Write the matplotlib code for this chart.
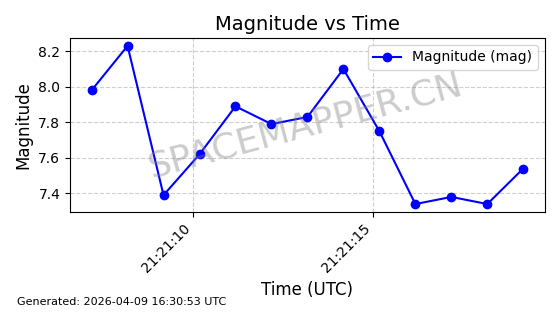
from datetime import datetime, timedelta

import matplotlib
matplotlib.use("Agg")
import matplotlib.pyplot as plt
import matplotlib.dates as mdates

start = datetime(2026, 4, 9, 21, 21, 7, 170000)
times = [start + timedelta(seconds=i) for i in range(13)]
magnitudes = [7.98, 8.23, 7.39, 7.62, 7.89, 7.79, 7.83, 8.10, 7.75, 7.34, 7.38, 7.34, 7.54]

fig = plt.figure(figsize=(5.6, 3.14), dpi=100)
ax = fig.add_axes([0.125, 0.325, 0.848, 0.554])

ax.plot(times, magnitudes, color="blue", marker="o", markersize=6, linewidth=1.5,
        label="Magnitude (mag)")
ax.set_title("Magnitude vs Time", fontsize=14)
ax.set_xlabel("Time (UTC)", fontsize=12)
ax.set_ylabel("Magnitude", fontsize=12)
ax.grid(True, linestyle="--", alpha=0.6)
ax.legend(loc="upper right")

ax.xaxis.set_major_locator(mdates.SecondLocator(bysecond=range(0, 60, 5)))
ax.xaxis.set_major_formatter(mdates.DateFormatter("%H:%M:%S"))
plt.setp(ax.get_xticklabels(), rotation=45, ha="right")

fig.text(0.546, 0.6, "SPACEMAPPER.CN", fontsize=26, color="gray", alpha=0.4,
         rotation=15, ha="center", va="center")
fig.text(0.03, 0.03, "Generated: 2026-04-09 16:30:53 UTC", fontsize=8)

fig.savefig("out.png", dpi=100)
